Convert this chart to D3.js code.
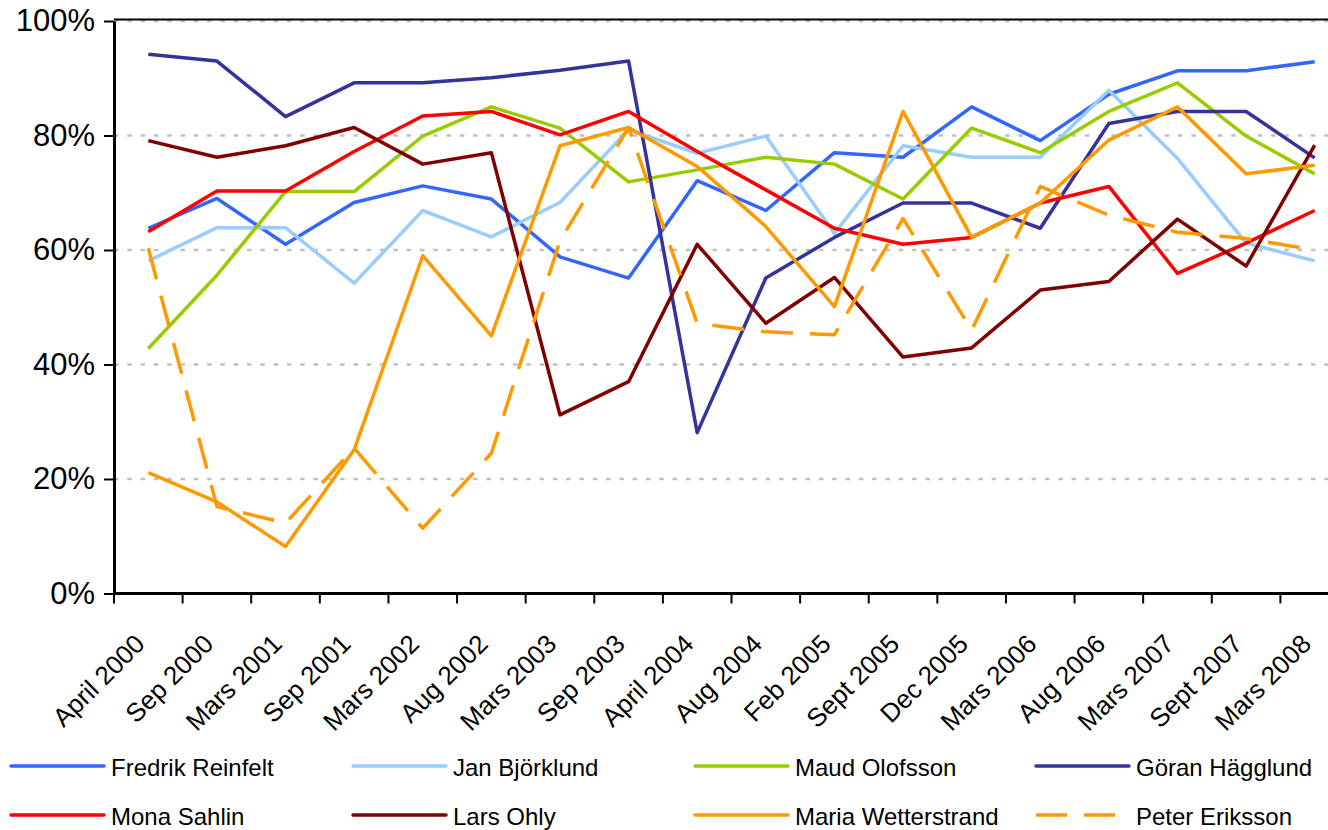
<!DOCTYPE html>
<html>
<head>
<meta charset="utf-8">
<script src="https://cdn.jsdelivr.net/npm/d3@7"></script>
<style>
  body { margin: 0; background: #fff; }
  svg text { font-family: Arial, "Liberation Sans", sans-serif; fill: #000; }
</style>
</head>
<body>
<div id="chart"></div>
<script>
// survey dates
const categories = ["April 2000", "Sep 2000", "Mars 2001", "Sep 2001", "Mars 2002", "Aug 2002",
  "Mars 2003", "Sep 2003", "April 2004", "Aug 2004", "Feb 2005", "Sept 2005", "Dec 2005",
  "Mars 2006", "Aug 2006", "Mars 2007", "Sept 2007", "Mars 2008"];

// confidence values in percent
const reinfelt     = [63.8, 69.0, 61.0, 68.3, 71.2, 68.9, 58.8, 55.1, 72.1, 66.9, 77.0, 76.2, 85.0, 79.1, 87.2, 91.3, 91.3, 92.9];
const bjorklund    = [58.1, 63.9, 63.9, 54.2, 66.9, 62.3, 68.3, 81.0, 76.9, 79.9, 62.9, 78.2, 76.2, 76.2, 87.9, 76.0, 61.2, 58.1];
const olofsson     = [42.8, 55.6, 70.2, 70.2, 79.9, 85.0, 81.3, 71.9, 74.0, 76.2, 75.0, 68.9, 81.3, 77.0, 84.2, 89.2, 79.9, 73.3];
const hagglund     = [94.2, 93.0, 83.3, 89.2, 89.2, 90.1, 91.4, 93.0, 28.1, 55.1, 62.2, 68.2, 68.2, 63.8, 82.1, 84.2, 84.2, 76.1];
const sahlin       = [63.2, 70.3, 70.3, 77.2, 83.4, 84.2, 80.1, 84.2, 77.2, 70.5, 63.8, 61.0, 62.2, 68.2, 71.1, 55.9, 61.2, 66.9];
const ohly         = [79.1, 76.2, 78.2, 81.4, 75.0, 77.0, 31.2, 37.0, 61.0, 47.2, 55.2, 41.3, 42.9, 53.0, 54.5, 65.4, 57.2, 78.3];
const wetterstrand = [21.1, 16.0, 8.2, 25.1, 59.0, 45.0, 78.2, 81.4, 74.6, 64.1, 50.1, 84.2, 62.2, 68.2, 79.2, 85.0, 73.3, 74.8];
const eriksson     = [60.3, 15.2, 12.3, 25.4, 11.4, 24.5, 61.6, 81.4, 47.2, 45.7, 45.2, 65.5, 46.0, 71.1, 66.1, 63.1, 62.0, 60.0];

const names = ["Fredrik Reinfelt", "Jan Björklund", "Maud Olofsson", "Göran Hägglund",
  "Mona Sahlin", "Lars Ohly", "Maria Wetterstrand", "Peter Eriksson"];
const yTicks = [0, 20, 40, 60, 80, 100];

const colors = ["#3366ff", "#99ccff", "#99cc00", "#333399", "#ff0000", "#800000", "#ff9900", "#ff9900"];
const dashed = [false, false, false, false, false, false, false, true];

const series = [reinfelt, bjorklund, olofsson, hagglund, sahlin, ohly, wetterstrand, eriksson]
  .map((values, i) => ({ name: names[i], values: values, color: colors[i], dashed: dashed[i] }));

const width = 1328,
      height = 830;
// plot area runs past the right edge of the picture, as in the original
const plot = { left: 114, right: 1349, top: 21, bottom: 593.5 };

var svg = d3.select('#chart').append('svg')
  .attr('width', width)
  .attr('height', height);

const x = d3.scaleBand()
  .domain(categories)
  .range([plot.left, plot.right])
  .padding(0);

const y = d3.scaleLinear()
  .domain([0, 100])
  .range([plot.bottom, plot.top]);

// gridlines
svg.append("g")
  .selectAll("line").data(yTicks.filter(d => d > 0))
  .enter().append("line")
  .attr("x1", plot.left)
  .attr("x2", plot.right)
  .attr("y1", d => y(d))
  .attr("y2", d => y(d))
  .style("stroke", "#c0c0c0")
  .style("stroke-width", 2.5)
  .style("stroke-dasharray", "4.5,8.8");

// top border of plot area
svg.append("line")
  .attr("x1", plot.left)
  .attr("x2", plot.right)
  .attr("y1", y(100) - 1.5)
  .attr("y2", y(100) - 1.5)
  .style("stroke", "#000")
  .style("stroke-width", 2);

// y axis
var yAxis = svg.append("g")
  .attr("transform", `translate(${plot.left},0)`)
  .call(d3.axisLeft(y)
    .tickValues(yTicks)
    .tickFormat(d => d + "%")
    .tickSize(10)
    .tickSizeOuter(0)
    .tickPadding(9));
yAxis.select(".domain").style("stroke-width", 3);
yAxis.selectAll(".tick line").style("stroke-width", 2);
yAxis.selectAll(".tick text")
  .style("font-size", "31px")
  .style("font-family", "Arial, 'Liberation Sans', sans-serif");

// x axis: line, ticks between categories, rotated labels
var xAxis = svg.append("g");
xAxis.append("line")
  .attr("x1", plot.left)
  .attr("x2", plot.right)
  .attr("y1", y(0))
  .attr("y2", y(0))
  .style("stroke", "#000")
  .style("stroke-width", 3);

xAxis.selectAll("line.tick").data(categories)
  .enter().append("line")
  .attr("class", "tick")
  .attr("x1", d => x(d))
  .attr("x2", d => x(d))
  .attr("y1", y(0))
  .attr("y2", y(0) + 10)
  .style("stroke", "#000")
  .style("stroke-width", 2);

xAxis.selectAll("text").data(categories)
  .enter().append("text")
  .attr("transform", d => `translate(${x(d) + x.bandwidth() / 2 - 2},${y(0) + 52}) rotate(-45)`)
  .attr("text-anchor", "end")
  .style("font-size", "26px")
  .text(d => d);

// series lines
const line = d3.line()
  .x((d, i) => x(categories[i]) + x.bandwidth() / 2)
  .y(d => y(d));

svg.append("g")
  .selectAll("path").data(series)
  .enter().append("path")
  .attr("d", d => line(d.values))
  .style("fill", "none")
  .style("stroke", d => d.color)
  .style("stroke-width", 3.5)
  .style("stroke-linejoin", "round")
  .style("stroke-dasharray", d => d.dashed ? "32,17" : null);

// legend, 4 columns x 2 rows
const legendX = [11, 353, 695, 1036],
      legendY = [766, 815];

var legend = svg.append("g")
  .selectAll("g").data(series)
  .enter().append("g")
  .attr("transform", (d, i) => `translate(${legendX[i % 4]},${legendY[Math.floor(i / 4)]})`);

legend.append("line")
  .attr("x1", 0)
  .attr("x2", 93)
  .style("stroke", d => d.color)
  .style("stroke-width", 3.5)
  .style("stroke-linecap", d => d.dashed ? "butt" : "round")
  .style("stroke-dasharray", d => d.dashed ? "31,17" : null);

legend.append("text")
  .attr("x", 100)
  .attr("y", 10)
  .style("font-size", "24px")
  .text(d => d.name);
</script>
</body>
</html>
